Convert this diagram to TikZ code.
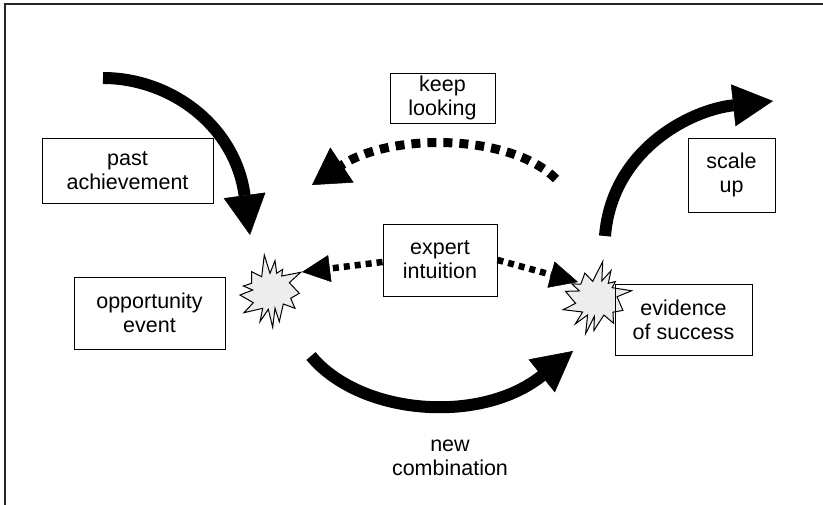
\documentclass[tikz,border=0pt]{standalone}
\usepackage{fontspec}
\setmainfont{Liberation Sans}
\usetikzlibrary{arrows.meta}

\begin{document}
\begin{tikzpicture}[x=1pt,y=-1pt,
  box/.style={draw, line width=1pt, align=center, inner sep=0pt,
              font=\fontsize{21.5}{24}\selectfont},
  label/.style={align=center, inner sep=0pt, font=\fontsize{21.5}{24}\selectfont},
  bigarrow/.style={line width=12pt,
                   -{Triangle[length=40pt,width=42pt,line width=0.5pt]}},
  loosearrow/.style={line width=9pt, dash pattern=on 9pt off 7pt,
                   -{Triangle[length=36pt,width=42pt,line width=0.5pt]}},
  hintarrow/.style={line width=6.5pt, dash pattern=on 6pt off 5pt,
                   -{Triangle[length=28pt,width=27pt,line width=0.5pt]}},
  burst/.style={draw, line width=1pt, fill=black!7, line join=miter}
]
\useasboundingbox (0,0) rectangle (823,504);

% outer frame
\draw[line width=1.8pt, black!85] (5,510) -- (5,4) -- (830,4);

% anchor points for the curved arrows
\coordinate (pastS) at (103,78);
\coordinate (pastE) at (250,235);
\coordinate (scaleS) at (605,236);
\coordinate (scaleE) at (773,101);
\coordinate (combS) at (311,356);
\coordinate (combE) at (573,351);
\coordinate (lookS) at (556,179);
\coordinate (lookE) at (312,185);
\coordinate (leftBurst) at (270,290);
\coordinate (rightBurst) at (596,297);
\coordinate (hintL) at (302,272);
\coordinate (hintR) at (578,282);

% solid curved arrows
\draw[bigarrow] (pastS) .. controls (170,78) and (235,125) .. (pastE);
\draw[bigarrow] (scaleS) .. controls (612,150) and (690,110) .. (scaleE);
\draw[bigarrow] (combS) .. controls (360,415) and (480,425) .. (combE);

% dashed return arrow
\draw[loosearrow] (lookS) .. controls (510,133) and (390,133) .. (lookE);

% starbursts
\draw[burst, shift={(leftBurst)}] (-5.7,-35)
  \foreach \x/\y in {0/-16.7, 5/-29.3, 6.7/-16.7, 12.7/-20.7, 11.7/-14,
    30.7/-17.7, 19.3/-7.3, 29.3/3.3, 20.7/8.3, 25/18.3, 13.3/14, 9.3/31.7,
    5/18.3, 2.7/37.3, -1.7/19.3, -10/31.7, -7.3/18.3, -26/22.7, -16.7/12.7,
    -30/5, -17.3/0, -26.7/-4, -18.3/-6.7, -18.3/-18.3, -8.3/-13.3}
  { -- (\x,\y) } -- cycle;
\draw[burst, shift={(rightBurst)}, rotate=-20, scale=1.02] (-5.7,-35)
  \foreach \x/\y in {0/-16.7, 5/-29.3, 6.7/-16.7, 12.7/-20.7, 11.7/-14,
    30.7/-17.7, 19.3/-7.3, 29.3/3.3, 20.7/8.3, 25/18.3, 13.3/14, 9.3/31.7,
    5/18.3, 2.7/37.3, -1.7/19.3, -10/31.7, -7.3/18.3, -26/22.7, -16.7/12.7,
    -30/5, -17.3/0, -26.7/-4, -18.3/-6.7, -18.3/-18.3, -8.3/-13.3}
  { -- (\x,\y) } -- cycle;

% text boxes
\node[box, minimum width=105pt, minimum height=50pt] (keep) at (442.5,98) {keep\\looking};
\node[box, minimum width=171pt, minimum height=65pt] (past) at (127.5,170.5) {past\\achievement};
\node[box, minimum width=151pt, minimum height=72pt] (opp) at (149.5,313) {opportunity\\event};
\node[box, minimum width=114pt, minimum height=72pt] (expert) at (440,260) {expert\\intuition};
\node[box, minimum width=87pt, minimum height=74pt] (scale) at (731.5,175) {scale\\up};
\node[box, minimum width=137pt, minimum height=71pt] (evid) at (683.5,319.5) {evidence\\of success};
\node[label] (comb) at (450,458) {new\\combination};

% dotted hint arrows from the expert box
\draw[hintarrow] (expert.west) ++(0,2) -- (hintL);
\draw[hintarrow] (expert.east) -- (hintR);
\end{tikzpicture}
\end{document}
